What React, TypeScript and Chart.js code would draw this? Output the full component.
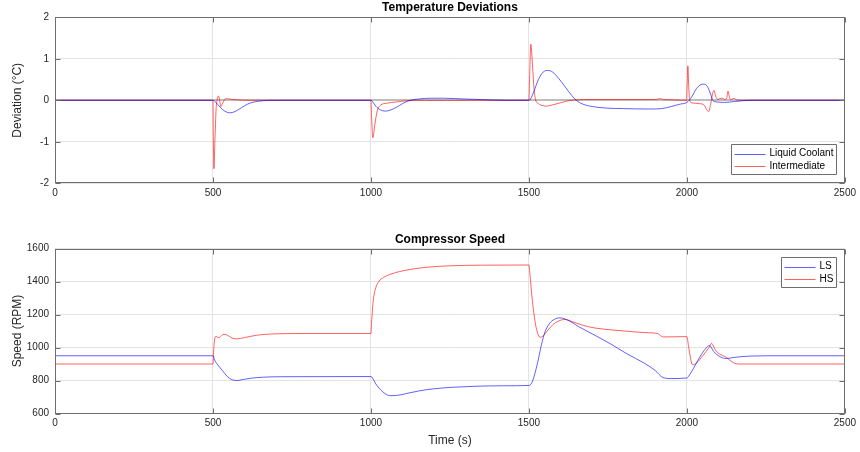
import { useEffect, useRef } from 'react';
import { Chart, registerables } from 'chart.js';

Chart.register(...registerables);

// ---------- data ----------
const timeTicks = [0, 500, 1000, 1500, 2000, 2500];
const deviationTicks = [-2, -1, 0, 1, 2];
const speedTicks = [600, 800, 1000, 1200, 1400, 1600];

const topTitle = 'Temperature Deviations';
const bottomTitle = 'Compressor Speed';
const deviationLabel = 'Deviation (°C)';
const speedLabel = 'Speed (RPM)';
const timeLabel = 'Time (s)';

// [time (s), deviation (°C)]
const liquidCoolant: [number, number][] = [
  [0, 0], [500, 0], [505, -0.02], [515, -0.1], [530, -0.22], [545, -0.29], [555, -0.3],
  [570, -0.27], [590, -0.18], [610, -0.09], [630, -0.04], [660, -0.01], [700, 0],
  [1000, 0], [1005, -0.03], [1015, -0.14], [1030, -0.23], [1045, -0.26], [1060, -0.24],
  [1080, -0.17], [1100, -0.08], [1120, -0.01], [1150, 0.03], [1190, 0.05], [1230, 0.05],
  [1300, 0.03], [1380, 0.01], [1450, 0], [1500, 0], [1505, 0.03], [1515, 0.2], [1530, 0.5],
  [1545, 0.68], [1560, 0.72], [1575, 0.68], [1595, 0.52], [1615, 0.32], [1635, 0.12],
  [1650, 0.0], [1670, -0.09], [1700, -0.15], [1750, -0.19], [1800, -0.2], [1880, -0.21],
  [1920, -0.2], [1950, -0.15], [1980, -0.09], [2000, -0.05], [2015, 0.08], [2030, 0.28],
  [2045, 0.38], [2055, 0.39], [2065, 0.33], [2075, 0.15], [2082, 0.0], [2095, -0.04],
  [2120, -0.05], [2150, -0.03], [2200, 0], [2500, 0],
];

const intermediate: [number, number][] = [
  [0, 0], [500, 0], [501, -0.8], [503, -1.65], [506, -1.0], [510, -0.2], [514, 0.05],
  [518, 0.1], [521, 0.0], [525, -0.15], [530, -0.08], [537, 0.02], [545, 0.04], [560, 0.02],
  [580, 0.01], [620, 0], [1000, 0], [1002, -0.4], [1006, -0.9], [1012, -0.6], [1020, -0.25],
  [1030, -0.12], [1050, -0.07], [1080, -0.04], [1115, -0.01], [1150, 0], [1500, 0],
  [1502, 0.5], [1506, 1.35], [1510, 1.0], [1515, 0.4], [1520, 0.05], [1530, -0.08],
  [1545, -0.13], [1556, -0.14], [1575, -0.11], [1600, -0.06], [1625, -0.01], [1650, 0.01],
  [1700, 0.02], [1900, 0.02], [1915, 0.04], [1925, 0.02], [1960, 0.01], [1999, 0],
  [2001, 0.4], [2003, 0.83], [2006, 0.3], [2009, 0], [2015, -0.06], [2040, -0.08],
  [2055, -0.12], [2062, -0.22], [2069, -0.27], [2075, -0.1], [2081, 0.15], [2086, 0.24],
  [2091, 0.1], [2098, 0.02], [2105, 0.04], [2112, 0.05], [2120, 0.02], [2126, 0.05],
  [2130, 0.22], [2134, 0.1], [2138, 0.02], [2144, 0.03], [2150, 0.05], [2156, 0.01],
  [2170, 0], [2500, 0],
];

// [time (s), speed (RPM)]
const lsSpeed: [number, number][] = [
  [0, 950], [500, 950], [505, 925], [515, 895], [530, 860], [545, 825], [560, 805],
  [575, 800], [595, 806], [620, 814], [660, 820], [720, 823], [1000, 824], [1005, 815],
  [1015, 780], [1030, 745], [1045, 720], [1060, 708], [1080, 709], [1110, 720], [1150, 736],
  [1200, 750], [1260, 759], [1330, 765], [1420, 768], [1500, 770], [1510, 790], [1520, 850],
  [1530, 930], [1540, 1020], [1551, 1095], [1565, 1145], [1580, 1170], [1598, 1180],
  [1615, 1172], [1640, 1148], [1656, 1128], [1700, 1083], [1760, 1020], [1810, 962],
  [1866, 904], [1900, 860], [1924, 818], [1950, 812], [2000, 815], [2005, 825], [2020, 870],
  [2040, 940], [2060, 995], [2071, 1012], [2085, 975], [2100, 950], [2125, 933],
  [2150, 940], [2200, 948], [2300, 950], [2500, 950],
];

const hsSpeed: [number, number][] = [
  [0, 900], [500, 900], [502, 980], [505, 1045], [510, 1068], [515, 1062], [520, 1060],
  [527, 1072], [535, 1080], [545, 1075], [560, 1058], [575, 1052], [600, 1060], [640, 1075],
  [700, 1083], [800, 1085], [1000, 1085], [1002, 1150], [1007, 1280], [1015, 1360],
  [1025, 1400], [1040, 1425], [1060, 1443], [1090, 1460], [1130, 1475], [1180, 1487],
  [1250, 1495], [1350, 1499], [1500, 1500], [1503, 1450], [1510, 1300], [1520, 1150],
  [1528, 1085], [1535, 1062], [1545, 1070], [1560, 1105], [1580, 1145], [1600, 1165],
  [1614, 1170], [1640, 1155], [1670, 1135], [1709, 1118], [1760, 1107], [1814, 1098],
  [1870, 1090], [1908, 1084], [1918, 1070], [1925, 1064], [2000, 1066], [2005, 1010],
  [2012, 930], [2018, 895], [2030, 905], [2050, 950], [2070, 1000], [2078, 1025],
  [2090, 985], [2100, 965], [2125, 940], [2135, 925], [2150, 905], [2170, 900],
  [2300, 900], [2500, 900],
];

// ---------- styling ----------
const FONT = '"Liberation Sans", Arial, Helvetica, sans-serif';
const TEXT = '#262626';
const FRAME = '#6e6e6e';
const GRID = '#e3e3e3';
const BLUE = 'rgba(0,0,255,0.62)';
const RED = 'rgba(255,0,0,0.62)';

const framePlugin = {
  id: 'matlabFrame',
  afterDatasetsDraw(chart: any) {
    const { ctx, chartArea: a, scales } = chart;
    const L = Math.round(a.left) + 0.5;
    const R = Math.round(a.right) - 0.5;
    const T = Math.round(a.top) + 0.5;
    const B = Math.round(a.bottom) - 0.5;
    ctx.save();
    ctx.strokeStyle = FRAME;
    ctx.lineWidth = 1;
    ctx.beginPath();
    const tl = 5;
    scales.x.ticks.forEach((t: any) => {
      const px = Math.round(scales.x.getPixelForValue(t.value)) + 0.5;
      ctx.moveTo(px, B); ctx.lineTo(px, B - tl);
      ctx.moveTo(px, T); ctx.lineTo(px, T + tl);
    });
    scales.y.ticks.forEach((t: any) => {
      const py = Math.round(scales.y.getPixelForValue(t.value)) + 0.5;
      ctx.moveTo(L, py); ctx.lineTo(L + tl, py);
      ctx.moveTo(R, py); ctx.lineTo(R - tl, py);
    });
    ctx.stroke();
    ctx.strokeRect(L, T, R - L, B - T);
    ctx.restore();
  },
};

const boxLegendPlugin = {
  id: 'boxLegend',
  afterDraw(chart: any, _args: any, opts: any) {
    if (!opts || !opts.corner) return;
    const { ctx, chartArea: a } = chart;
    const ds = chart.data.datasets;
    ctx.save();
    ctx.font = `10px ${FONT}`;
    const maxW = Math.max(...ds.map((d: any) => ctx.measureText(d.label).width));
    const padL = 3, lineLen = 31, gap = 4, padR = 3, rowH = 12.5;
    const w = Math.round(padL + lineLen + gap + maxW + padR);
    const h = Math.round(ds.length * rowH + 4.5);
    const x = Math.round(a.right - 9 - w) + 0.5;
    const y = opts.corner === 'se' ? Math.round(a.bottom - 9 - h) + 0.5 : Math.round(a.top + 8.5) + 0.5;
    ctx.fillStyle = '#ffffff';
    ctx.fillRect(x, y, w, h);
    ctx.lineWidth = 1;
    ctx.strokeStyle = FRAME;
    ctx.beginPath();
    ctx.rect(x, y, w, h);
    ctx.stroke();
    ds.forEach((d: any, i: number) => {
      const cy = y + 9 + i * rowH;
      const ly = Math.round(cy) + 0.5;
      ctx.beginPath();
      ctx.strokeStyle = opts.colors[i];
      ctx.lineWidth = 1;
      ctx.moveTo(x + padL, ly);
      ctx.lineTo(x + padL + lineLen, ly);
      ctx.stroke();
      ctx.fillStyle = '#000000';
      ctx.textBaseline = 'middle';
      ctx.textAlign = 'left';
      ctx.fillText(d.label, x + padL + lineLen + gap, cy);
    });
    ctx.restore();
  },
};

function series(label: string, pts: [number, number][], color: string) {
  return {
    label,
    data: pts.map(([x, y]) => ({ x, y })),
    borderColor: color,
    backgroundColor: color,
    borderWidth: 1,
    pointRadius: 0,
    cubicInterpolationMode: 'monotone' as const,
    fill: false,
  };
}

const plain = (v: any) => String(v);

function buildOptions(p: {
  title: string; titlePad: { top: number; bottom: number };
  yLabel: string; yMin: number; yMax: number; yTicks: number[];
  xHeight: number; xTitle?: string; corner: string; zeroLine?: boolean;
}) {
  return {
    responsive: false,
    animation: false as const,
    events: [] as any[],
    layout: { padding: { left: 0, right: 12.7, top: 0, bottom: 0 } },
    plugins: {
      legend: { display: false },
      tooltip: { enabled: false },
      title: {
        display: true,
        text: p.title,
        fullSize: false,
        color: '#000000',
        font: { family: FONT, size: 12, weight: 'bold' as const },
        padding: p.titlePad,
      },
      boxLegend: { corner: p.corner, colors: [BLUE, RED] },
    },
    scales: {
      x: {
        type: 'linear' as const,
        min: 0,
        max: 2500,
        afterBuildTicks: (s: any) => { s.ticks = timeTicks.map((v) => ({ value: v })); },
        afterFit: (s: any) => { s.height = p.xHeight; },
        ticks: { color: TEXT, font: { family: FONT, size: 10 }, padding: 4, maxRotation: 0, autoSkip: false, callback: plain },
        grid: { color: GRID, drawTicks: false },
        border: { display: false },
        title: p.xTitle
          ? { display: true, text: p.xTitle, color: TEXT, font: { family: FONT, size: 12 }, padding: { top: 2, bottom: 3.8 } }
          : { display: false },
      },
      y: {
        type: 'linear' as const,
        min: p.yMin,
        max: p.yMax,
        afterBuildTicks: (s: any) => { s.ticks = p.yTicks.map((v) => ({ value: v })); },
        afterFit: (s: any) => { s.width = 55; },
        ticks: { color: TEXT, font: { family: FONT, size: 10 }, padding: 6, callback: plain },
        grid: {
          color: (c: any) => (p.zeroLine && c.tick && c.tick.value === 0 ? '#bdbdbd' : GRID),
          lineWidth: (c: any) => (p.zeroLine && c.tick && c.tick.value === 0 ? 2 : 1),
          drawTicks: false,
        },
        border: { display: false },
        title: { display: true, text: p.yLabel, color: TEXT, font: { family: FONT, size: 12 }, padding: { top: 10.8 } },
      },
    },
  };
}

export default function App() {
  const topRef = useRef<HTMLCanvasElement>(null);
  const botRef = useRef<HTMLCanvasElement>(null);

  useEffect(() => {
    const top = new Chart(topRef.current as HTMLCanvasElement, {
      type: 'line',
      data: {
        datasets: [
          series('Liquid Coolant', liquidCoolant, BLUE),
          series('Intermediate', intermediate, RED),
        ],
      },
      options: buildOptions({
        title: topTitle, titlePad: { top: 0.8, bottom: 2.1 },
        yLabel: deviationLabel, yMin: -2, yMax: 2, yTicks: deviationTicks,
        xHeight: 21.7, corner: 'se', zeroLine: true,
      }) as any,
      plugins: [framePlugin, boxLegendPlugin],
    });
    const bot = new Chart(botRef.current as HTMLCanvasElement, {
      type: 'line',
      data: {
        datasets: [
          series('LS', lsSpeed, BLUE),
          series('HS', hsSpeed, RED),
        ],
      },
      options: buildOptions({
        title: bottomTitle, titlePad: { top: 27.8, bottom: 1.3 },
        yLabel: speedLabel, yMin: 600, yMax: 1600, yTicks: speedTicks,
        xHeight: 38.5, xTitle: timeLabel, corner: 'ne',
      }) as any,
      plugins: [framePlugin, boxLegendPlugin],
    });
    return () => { top.destroy(); bot.destroy(); };
  }, []);

  return (
    <div style={{ position: 'absolute', left: 0, top: 0, width: 860, height: 452, background: '#ffffff' }}>
      <canvas ref={topRef} width={860} height={205} style={{ position: 'absolute', left: 0, top: 0, width: 860, height: 205 }} />
      <canvas ref={botRef} width={860} height={247} style={{ position: 'absolute', left: 0, top: 205, width: 860, height: 247 }} />
    </div>
  );
}
